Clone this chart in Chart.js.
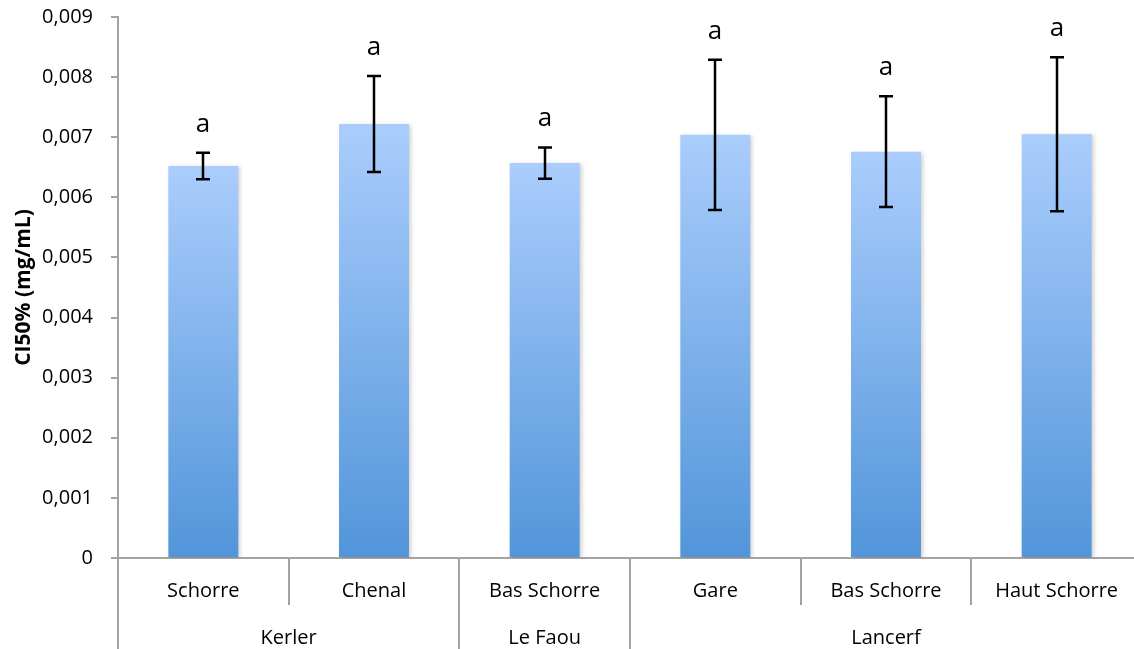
<!DOCTYPE html>
<html>
<head>
<meta charset="utf-8">
<script src="https://cdn.jsdelivr.net/npm/chart.js@4/dist/chart.umd.min.js"></script>
<style>
  html, body { margin: 0; padding: 0; background: #fff; overflow: hidden; }
  #wrap { width: 1142px; height: 649px; position: relative; }
</style>
</head>
<body>
<div id="wrap"><canvas id="c"></canvas></div>
<script>
// ---- data ----
const categories = ['Schorre', 'Chenal', 'Bas Schorre', 'Gare', 'Bas Schorre', 'Haut Schorre'];
const groupNames = ['Kerler', 'Le Faou', 'Lancerf'];
const groupSizes = [2, 1, 3];
const meanValues = [0.00652, 0.00722, 0.00657, 0.00704, 0.00676, 0.00705];
const errorValues = [0.00022, 0.00080, 0.00026, 0.00125, 0.00092, 0.00128];
const letters = ['a', 'a', 'a', 'a', 'a', 'a'];
const yMin = 0, yMax = 0.009, yStep = 0.001;

const FONT = "'Open Sans', 'DejaVu Sans', sans-serif";
const AXIS_COLOR = '#a3a3a3';

function fmt(v) {
  if (Math.abs(v) < 1e-12) return '0';
  return v.toFixed(3).replace('.', ',');
}

const multiLevelPlugin = {
  id: 'multiLevel',
  afterDraw(chart) {
    const ctx = chart.ctx;
    const x = chart.scales.x;
    const area = chart.chartArea;
    const n = categories.length;
    const half = (x.getPixelForValue(1) - x.getPixelForValue(0)) / 2;
    ctx.save();
    ctx.fillStyle = '#000';
    ctx.font = '20px ' + FONT;
    ctx.textAlign = 'center';
    ctx.textBaseline = 'middle';
    for (let i = 0; i < n; i++) {
      ctx.fillText(categories[i], x.getPixelForValue(i), area.bottom + 33);
    }
    ctx.strokeStyle = AXIS_COLOR;
    ctx.lineWidth = 2;
    let start = 0;
    const lineTop = area.bottom + 47, lineBot = chart.height;
    const drawSep = (px) => {
      ctx.beginPath();
      ctx.moveTo(Math.round(px), lineTop);
      ctx.lineTo(Math.round(px), lineBot);
      ctx.stroke();
    };
    drawSep(x.getPixelForValue(0) - half);
    for (let g = 0; g < groupNames.length; g++) {
      const end = start + groupSizes[g] - 1;
      const left = x.getPixelForValue(start) - half;
      const right = x.getPixelForValue(end) + half;
      ctx.fillText(groupNames[g], (left + right) / 2, area.bottom + 80);
      if (g < groupNames.length - 1) drawSep(right);
      start = end + 1;
    }
    ctx.restore();
  }
};

const errorBarPlugin = {
  id: 'errorBars',
  afterDatasetsDraw(chart) {
    const ctx = chart.ctx;
    const x = chart.scales.x, y = chart.scales.y;
    ctx.save();
    ctx.strokeStyle = '#000';
    ctx.lineWidth = 2.5;
    for (let i = 0; i < meanValues.length; i++) {
      const px = Math.round(x.getPixelForValue(i));
      const top = y.getPixelForValue(meanValues[i] + errorValues[i]);
      const bot = y.getPixelForValue(meanValues[i] - errorValues[i]);
      ctx.beginPath();
      ctx.moveTo(px, top); ctx.lineTo(px, bot);
      ctx.moveTo(px - 7, top); ctx.lineTo(px + 7, top);
      ctx.moveTo(px - 7, bot); ctx.lineTo(px + 7, bot);
      ctx.stroke();
      ctx.fillStyle = '#000';
      ctx.font = '26px ' + FONT;
      ctx.textAlign = 'center';
      ctx.textBaseline = 'alphabetic';
      ctx.fillText(letters[i], px, top - 21);
    }
    ctx.restore();
  }
};

const shadowPlugin = {
  id: 'barShadow',
  beforeDatasetDraw(chart) {
    const ctx = chart.ctx;
    ctx.save();
    ctx.shadowColor = 'rgba(0,0,0,0.18)';
    ctx.shadowBlur = 4;
    ctx.shadowOffsetX = 2;
    ctx.shadowOffsetY = 1;
  },
  afterDatasetDraw(chart) {
    chart.ctx.restore();
  }
};

new Chart(document.getElementById('c'), {
  type: 'bar',
  data: {
    labels: categories,
    datasets: [{
      data: meanValues,
      borderWidth: 0,
      backgroundColor(context) {
        const chart = context.chart;
        const area = chart.chartArea;
        if (!area) return '#7fb0ee';
        const y = chart.scales.y;
        const v = meanValues[context.dataIndex];
        const topPx = y.getPixelForValue(v);
        const g = chart.ctx.createLinearGradient(0, topPx, 0, y.getPixelForValue(0));
        g.addColorStop(0, '#aacdfc');
        g.addColorStop(1, '#5295da');
        return g;
      },
      barPercentage: 0.41,
      categoryPercentage: 1.0
    }]
  },
  options: {
    responsive: true,
    maintainAspectRatio: false,
    animation: false,
    devicePixelRatio: 1,
    layout: { padding: { top: 17, right: 0, left: 0, bottom: 0 } },
    plugins: {
      legend: { display: false },
      tooltip: { enabled: false }
    },
    scales: {
      x: {
        type: 'category',
        offset: true,
        afterFit(scale) { scale.height = 91; scale.paddingLeft = 0; scale.paddingRight = 0; },
        border: { display: true, color: AXIS_COLOR, width: 2 },
        grid: {
          offset: true,
          drawOnChartArea: false,
          drawTicks: true,
          tickLength: 47,
          color: AXIS_COLOR,
          lineWidth: 2
        },
        ticks: { display: false }
      },
      y: {
        min: yMin,
        max: yMax,
        afterFit(scale) { scale.width = 118; scale.paddingTop = 0; scale.paddingBottom = 0; },
        border: { display: true, color: AXIS_COLOR, width: 2 },
        grid: {
          drawOnChartArea: false,
          drawTicks: true,
          tickLength: 7,
          color: AXIS_COLOR,
          lineWidth: 2
        },
        ticks: {
          stepSize: yStep,
          padding: 18,
          color: '#000',
          font: { family: FONT, size: 20 },
          callback: (v) => fmt(v)
        },
        title: {
          display: true,
          text: 'CI50% (mg/mL)',
          color: '#000',
          font: { family: FONT, size: 21, weight: 'bold' },
          padding: { top: 11, bottom: 0 }
        }
      }
    }
  },
  plugins: [shadowPlugin, errorBarPlugin, multiLevelPlugin]
});
</script>
</body>
</html>
